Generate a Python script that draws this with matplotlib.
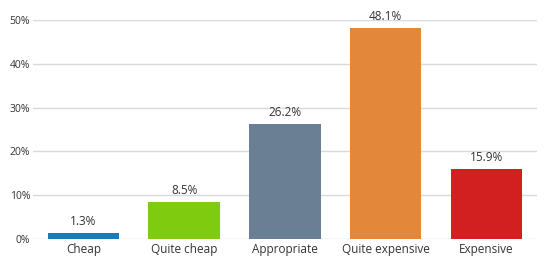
import matplotlib
matplotlib.use("Agg")
import matplotlib.pyplot as plt

categories = ["Cheap", "Quite cheap", "Appropriate", "Quite expensive", "Expensive"]
shares = [1.3, 8.5, 26.2, 48.1, 15.9]
colors = ["#1a7bb9", "#7ecb0f", "#6a7f93", "#e3873a", "#d21f1f"]
yticks = [0, 10, 20, 30, 40, 50]

plt.rcParams['font.family'] = ['Open Sans', 'DejaVu Sans']
text_color = '#333333'

fig = plt.figure(figsize=(5.5, 2.68), dpi=100)
ax = fig.add_axes([0.06, 0.108, 0.916, 0.817])

x = range(len(categories))
ax.bar(x, shares, width=0.71, color=colors, zorder=3)

# value labels above each bar
for i, v in zip(x, shares):
    ax.text(i, v + 1.2, f"{v}%", ha='center', va='bottom', fontsize=8.5,
            color=text_color, clip_on=False)

ax.set_xlim(-0.5, len(categories) - 0.5)
ax.set_ylim(0, 50)
ax.set_yticks(yticks)
ax.set_yticklabels([f"{t}%" for t in yticks], fontsize=7.5, color=text_color)
ax.set_xticks(list(x))
ax.set_xticklabels(categories, fontsize=8.5, color=text_color)
ax.tick_params(axis='both', length=0)
ax.tick_params(axis='y', pad=2)
ax.tick_params(axis='x', pad=3)

ax.grid(axis='y', color='#d9d9d9', linewidth=1, zorder=0)
for s in ax.spines.values():
    s.set_visible(False)

fig.savefig("out.png", dpi=100)
